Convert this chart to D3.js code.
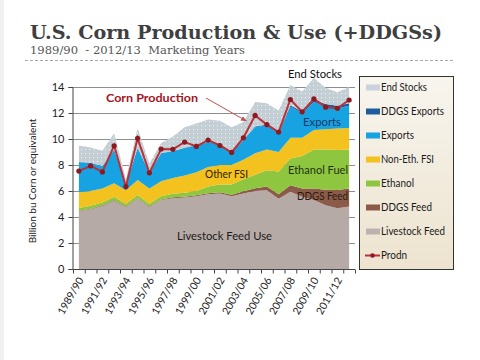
<!DOCTYPE html>
<html><head><meta charset="utf-8">
<script src="https://cdn.jsdelivr.net/npm/d3@7"></script>
<style>
html,body{margin:0;padding:0;background:#fff;}
svg{display:block;}
text{font-family:Lato,"Open Sans",sans-serif;}
</style></head>
<body>
<script>
// ---- data (billion bushels, corn or equivalent) ----
const years = ["1989/90","1990/91","1991/92","1992/93","1993/94","1994/95","1995/96","1996/97","1997/98","1998/99","1999/00","2000/01","2001/02","2002/03","2003/04","2004/05","2005/06","2006/07","2007/08","2008/09","2009/10","2010/11","2011/12","2012/13"];
const livestockFeed = [4.45,4.6,4.85,5.25,4.75,5.4,4.75,5.3,5.45,5.5,5.6,5.75,5.8,5.6,5.8,6.0,6.05,5.4,5.95,5.55,5.3,4.9,4.67,4.8];
const ddgsFeed      = [0.04,0.04,0.05,0.05,0.05,0.05,0.05,0.05,0.06,0.06,0.07,0.08,0.1,0.12,0.18,0.22,0.3,0.35,0.5,0.65,0.9,1.2,1.41,1.4];
const ethanol       = [0.21,0.22,0.22,0.25,0.22,0.25,0.22,0.25,0.27,0.3,0.33,0.52,0.6,0.78,0.92,1.03,1.25,1.75,2.05,2.5,3.0,3.1,3.07,3.0];
const nonEthFSI     = [1.2,1.14,1.08,1.05,1.03,1.15,1.18,1.15,1.22,1.34,1.45,1.5,1.5,1.5,1.5,1.65,1.6,1.5,1.6,1.4,1.5,1.55,1.65,1.65];
const exportsArr    = [2.3,2.15,1.7,2.55,0.45,2.45,1.2,2.15,2.05,2.1,2.05,1.9,1.6,0.95,1.5,2.0,1.85,1.4,2.4,1.9,2.15,1.75,1.55,1.7];
const ddgsExports   = [0.03,0.03,0.03,0.03,0.03,0.03,0.03,0.03,0.03,0.03,0.03,0.04,0.04,0.05,0.05,0.06,0.07,0.08,0.1,0.12,0.15,0.2,0.2,0.2];
const endStocks     = [1.27,1.17,1.17,1.27,0.4,1.52,0.67,0.77,1.12,1.57,1.67,1.71,1.76,1.9,1.35,1.89,1.63,1.72,1.55,1.53,1.7,1.25,1.05,1.25];
const production    = [7.53,7.93,7.47,9.48,6.34,10.05,7.40,9.23,9.21,9.76,9.43,9.92,9.50,8.97,10.09,11.81,11.11,10.53,13.04,12.09,13.09,12.45,12.36,13.0];
const yTicks = [0,2,4,6,8,10,12,14];
const seriesNames = ["Livestock Feed","DDGS Feed","Ethanol","Non-Eth. FSI","Exports","DDGS Exports","End Stocks"];
const seriesValues = [livestockFeed,ddgsFeed,ethanol,nonEthFSI,exportsArr,ddgsExports,endStocks];
const seriesColors = ["#b6aaa6","#8c5a48","#8fc640","#f4c21e","#17a2e2","#1f5c9e","url(#dots)"];
const legendOrder = ["End Stocks","DDGS Exports","Exports","Non-Eth. FSI","Ethanol","DDGS Feed","Livestock Feed","Prodn"];
const legendColors = {"End Stocks":"#c9d2de","DDGS Exports":"#1f5c9e","Exports":"#17a2e2","Non-Eth. FSI":"#f4c21e","Ethanol":"#8fc640","DDGS Feed":"#8c5a48","Livestock Feed":"#bdb3ae"};
const legendWidths = {"End Stocks":46,"DDGS Exports":63,"Exports":33,"Non-Eth. FSI":53,"Ethanol":33,"DDGS Feed":51,"Livestock Feed":64,"Prodn":26};

const W=480,H=360;
const svg = d3.select("body").append("svg").attr("width",W).attr("height",H);
const defs = svg.append("defs");
const pat = defs.append("pattern").attr("id","dots").attr("patternUnits","userSpaceOnUse").attr("width",4).attr("height",4);
pat.append("rect").attr("width",4).attr("height",4).attr("fill","#c3ced5");
pat.append("rect").attr("x",1).attr("y",1).attr("width",1).attr("height",1).attr("fill","#eef2f4");
const lg = defs.append("linearGradient").attr("id","legbg").attr("x1",0).attr("y1",0).attr("x2",0).attr("y2",1);
lg.append("stop").attr("offset","0%").attr("stop-color","#f8f5ee");
lg.append("stop").attr("offset","100%").attr("stop-color","#ede3cf");
defs.append("marker").attr("id","arr").attr("viewBox","0 0 10 10").attr("refX",9).attr("refY",5)
  .attr("markerWidth",6).attr("markerHeight",6).attr("orient","auto")
  .append("path").attr("d","M0,1 L10,5 L0,9 Z").attr("fill","#c0504d");

// left slide shadow
svg.append("rect").attr("x",0).attr("y",0).attr("width",4).attr("height",H).attr("fill","#f0f0f0");

// title
svg.append("text").attr("x",30).attr("y",39).attr("textLength",412).attr("lengthAdjust","spacingAndGlyphs")
  .style("font-family","'DejaVu Serif',serif").style("font-weight","bold").style("font-size","19px").attr("fill","#3f3f3f")
  .text("U.S. Corn Production & Use (+DDGSs)");
svg.append("text").attr("x",30).attr("y",53.5).attr("textLength",215).attr("lengthAdjust","spacingAndGlyphs")
  .style("font-family","'DejaVu Serif',serif").style("font-size","10.5px").style("white-space","pre").attr("fill","#555")
  .text("1989/90  - 2012/13  Marketing Years");
svg.append("line").attr("x1",25).attr("x2",455).attr("y1",60.5).attr("y2",60.5)
  .attr("stroke","#a8a8a8").attr("stroke-dasharray","3,2");

// scales
const x0=73, x1=355;
const xb = d3.scaleBand().domain(years).range([x0,x1]).padding(0);
const xc = d => xb(d)+xb.bandwidth()/2;
const xEdge = d3.scaleLinear().domain([0,years.length]).range([x0,x1]);
const y = d3.scaleLinear().domain([0,14]).range([269,87]);

// gridlines
svg.append("g").selectAll("line").data(yTicks.filter(t=>t>0)).join("line")
  .attr("x1",72).attr("x2",355).attr("y1",d=>y(d)+0.5).attr("y2",d=>y(d)+0.5)
  .attr("stroke","#8e8e8e").attr("stroke-width",1);

// stacked areas
const table = years.map((yr,i)=>{const o={year:yr}; seriesNames.forEach((n,k)=>o[n]=seriesValues[k][i]); return o;});
const stack = d3.stack().keys(seriesNames)(table);
const area = d3.area().x(d=>xc(d.data.year)).y0(d=>y(d[0])).y1(d=>y(d[1]));
svg.append("g").selectAll("path").data(stack).join("path")
  .attr("d",area).attr("fill",(d,i)=>seriesColors[i]);

// production line
const prod = years.map((yr,i)=>({year:yr,v:production[i]}));
svg.append("path").datum(prod).attr("fill","none").attr("stroke","#b8323a").attr("stroke-width",2)
  .attr("d",d3.line().x(d=>xc(d.year)).y(d=>y(d.v)));
svg.append("g").selectAll("circle").data(prod).join("circle")
  .attr("cx",d=>xc(d.year)).attr("cy",d=>y(d.v)).attr("r",2.6).attr("fill","#8e1a20");

// axes
const ya = svg.append("g").attr("transform","translate(72.5,0)")
  .call(d3.axisLeft(y).tickValues(yTicks).tickSize(4).tickPadding(4).tickFormat(d3.format("d")));
ya.select(".domain").attr("stroke","#444");
ya.selectAll(".tick line").attr("stroke","#444");
ya.selectAll("text").style("font-family","Lato,sans-serif").style("font-size","11px").attr("fill","#222");

const xa = svg.append("g").attr("transform","translate(0,269.5)")
  .call(d3.axisBottom(xEdge).tickValues(d3.range(years.length+1)).tickSize(4).tickFormat(""));
xa.select(".domain").attr("stroke","#444").attr("d",`M72,0H${x1}`);
xa.selectAll(".tick line").attr("stroke","#444");

svg.append("g").selectAll("text").data(years.filter((d,i)=>i%2===0)).join("text")
  .attr("transform",d=>`translate(${xc(d)+2},278) rotate(-60)`)
  .attr("text-anchor","end").attr("dy","0.35em")
  .style("font-size","10.5px").attr("fill","#222").text(d=>d);

// y axis title
svg.append("text").attr("transform","translate(36,181) rotate(-90)").attr("text-anchor","middle")
  .style("font-size","10px").attr("fill","#222").text("Billion bu Corn or equivalent");

// in-chart labels
function lab(t,xx,yy,col,size,w,bold){
  svg.append("text").attr("x",xx).attr("y",yy).attr("dy","0.35em").style("font-size",size+"px")
   .attr("textLength",w).attr("lengthAdjust","spacingAndGlyphs")
   .style("font-weight",bold?"bold":"normal").attr("fill",col).text(t);
}
lab("End Stocks",288,74,"#111",11,54);
lab("Exports",303,122,"#1b3a6b",11.5,38);
lab("Ethanol Fuel",288,170,"#1f3312",11.5,60);
lab("Other FSI",205,174.5,"#2e2200",11,43);
lab("DDGS Feed",297,196,"#2a1a12",11.5,51);
lab("Livestock Feed Use",177,236,"#1a1a1a",11.5,95);
lab("Corn Production",106,97.5,"#a3141e",11.5,92,true);
svg.append("line").attr("x1",206).attr("y1",98).attr("x2",xc(years[14])+3).attr("y2",121)
  .attr("stroke","#c0504d").attr("stroke-width",1).attr("marker-end","url(#arr)");

// legend
const L = svg.append("g");
L.append("rect").attr("x",359.5).attr("y",76.5).attr("width",94).attr("height",193)
  .attr("fill","url(#legbg)").attr("stroke","#333").attr("stroke-width",1);
legendOrder.forEach((n,i)=>{
  const yy = 87.5 + i*24;
  if(n==="Prodn"){
    L.append("line").attr("x1",365).attr("x2",380).attr("y1",yy).attr("y2",yy).attr("stroke","#b8323a").attr("stroke-width",2);
    L.append("circle").attr("cx",372.5).attr("cy",yy).attr("r",2.3).attr("fill","#8e1a20");
  } else {
    L.append("rect").attr("x",366).attr("y",yy-3).attr("width",14).attr("height",6).attr("fill",legendColors[n]);
  }
  L.append("text").attr("x",381).attr("y",yy).attr("dy","0.35em").style("font-size","11px")
    .attr("textLength",legendWidths[n]).attr("lengthAdjust","spacingAndGlyphs").attr("fill","#1a1a1a").text(n);
});
</script>
</body></html>
